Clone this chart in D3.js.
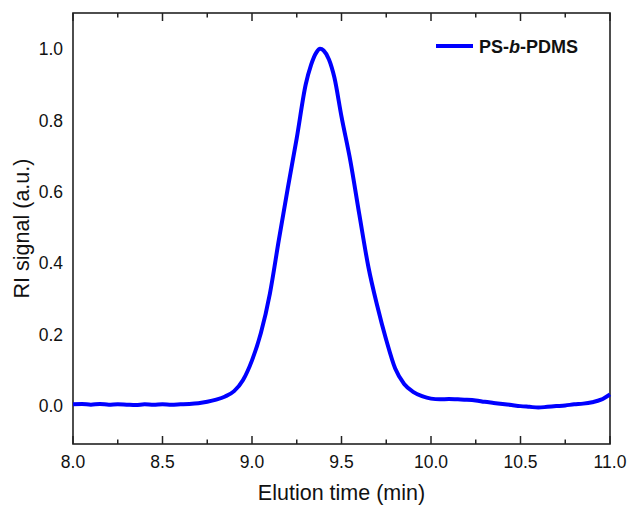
<!DOCTYPE html>
<html>
<head>
<meta charset="utf-8">
<script src="https://cdn.jsdelivr.net/npm/d3@7"></script>
<style>
  body { margin: 0; background: #fff; }
  text { font-family: "Liberation Sans", Arial, sans-serif; fill: #111; }
</style>
</head>
<body>
<svg></svg>
<script>
(function() {

  // elution time (min) and RI signal (a.u.)
  const times = [8.0, 8.05, 8.1, 8.15, 8.2, 8.25, 8.3, 8.35, 8.4, 8.45, 8.5, 8.55, 8.6, 8.65,
                 8.7, 8.75, 8.8, 8.85, 8.9, 8.95, 9.0, 9.05, 9.1, 9.15, 9.2, 9.25, 9.3, 9.33,
                 9.36, 9.38, 9.4, 9.43, 9.46, 9.5, 9.55, 9.6, 9.65, 9.7, 9.75, 9.8, 9.85, 9.9,
                 9.95, 10.0, 10.05, 10.1, 10.15, 10.2, 10.25, 10.3, 10.35, 10.4, 10.45, 10.5,
                 10.55, 10.6, 10.65, 10.7, 10.75, 10.8, 10.85, 10.9, 10.95, 11.0]
  const signal = [0.005, 0.006, 0.004, 0.006, 0.004, 0.005, 0.004, 0.003, 0.005, 0.004, 0.005, 0.004, 0.005, 0.006,
                  0.008, 0.012, 0.018, 0.027, 0.042, 0.073, 0.128, 0.205, 0.315, 0.465, 0.61, 0.75, 0.9, 0.955,
                  0.99, 1.0, 0.995, 0.97, 0.92, 0.81, 0.685, 0.535, 0.39, 0.28, 0.185, 0.105, 0.062, 0.04,
                  0.028, 0.021, 0.019, 0.02, 0.019, 0.018, 0.016, 0.012, 0.009, 0.006, 0.003, 0.0,
                  -0.002, -0.004, -0.002, 0.0, 0.002, 0.005, 0.007, 0.011, 0.018, 0.033]
  const data = times.map((t, i) => ({t: t, v: signal[i]}))

  const xTicks = [8.0, 8.5, 9.0, 9.5, 10.0, 10.5, 11.0]
  const xMinor = [8.25, 8.75, 9.25, 9.75, 10.25, 10.75]
  const yTicks = [0.0, 0.2, 0.4, 0.6, 0.8, 1.0]

  const width = 631
  const height = 510
  const margin = {top: 13, right: 21, bottom: 66, left: 73}

  const svg = d3.select('svg')
    .attr('width', width)
    .attr('height', height)

  const x = d3.scaleLinear()
    .domain([8.0, 11.0])
    .range([margin.left, width - margin.right])

  const y = d3.scaleLinear()
    .domain([-0.106, 1.1])
    .range([height - margin.bottom, margin.top])

  const x0 = margin.left, x1 = width - margin.right
  const y0 = height - margin.bottom, y1 = margin.top

  // tick marks (inward, bottom and top)
  const tickG = svg.append('g').attr('stroke', '#222').attr('stroke-width', 1.5)
  xTicks.forEach(t => {
    tickG.append('line').attr('x1', x(t)).attr('x2', x(t)).attr('y1', y0).attr('y2', y0 - 8)
    tickG.append('line').attr('x1', x(t)).attr('x2', x(t)).attr('y1', y1).attr('y2', y1 + 8)
  })
  xMinor.forEach(t => {
    tickG.append('line').attr('x1', x(t)).attr('x2', x(t)).attr('y1', y0).attr('y2', y0 - 4.5)
    tickG.append('line').attr('x1', x(t)).attr('x2', x(t)).attr('y1', y1).attr('y2', y1 + 4.5)
  })

  // frame
  svg.append('rect')
    .attr('x', x0).attr('y', y1)
    .attr('width', x1 - x0).attr('height', y0 - y1)
    .attr('fill', 'none')
    .attr('stroke', '#222')
    .attr('stroke-width', 1.6)

  // tick labels
  svg.append('g')
    .selectAll('text')
    .data(xTicks)
    .enter()
    .append('text')
    .attr('x', d => x(d))
    .attr('y', y0 + 24)
    .attr('text-anchor', 'middle')
    .attr('font-size', 17.5)
    .text(d => d3.format('.1f')(d))

  svg.append('g')
    .selectAll('text')
    .data(yTicks)
    .enter()
    .append('text')
    .attr('x', x0 - 10)
    .attr('y', d => y(d))
    .attr('dy', '0.36em')
    .attr('text-anchor', 'end')
    .attr('font-size', 17.5)
    .text(d => d3.format('.1f')(d))

  // axis titles
  svg.append('text')
    .attr('x', (x0 + x1) / 2)
    .attr('y', 500)
    .attr('text-anchor', 'middle')
    .attr('font-size', 21.5)
    .text('Elution time (min)')

  svg.append('text')
    .attr('transform', `translate(29,${(y0 + y1) / 2}) rotate(-90)`)
    .attr('text-anchor', 'middle')
    .attr('font-size', 21.5)
    .text('RI signal (a.u.)')

  // curve
  const line = d3.line()
    .x(d => x(d.t))
    .y(d => y(d.v))
    .curve(d3.curveMonotoneX)

  svg.append('path')
    .datum(data)
    .attr('d', line)
    .attr('fill', 'none')
    .attr('stroke', '#0000ff')
    .attr('stroke-width', 4)
    .attr('stroke-linejoin', 'round')

  // legend
  svg.append('line')
    .attr('x1', 436).attr('x2', 473)
    .attr('y1', 46).attr('y2', 46)
    .attr('stroke', '#0000ff')
    .attr('stroke-width', 4)

  const leg = svg.append('text')
    .attr('x', 479)
    .attr('y', 52.5)
    .attr('font-size', 18)
    .attr('font-weight', 'bold')
  leg.append('tspan').text('PS-')
  leg.append('tspan').attr('font-style', 'italic').text('b')
  leg.append('tspan').text('-PDMS')

})()
</script>
</body>
</html>
